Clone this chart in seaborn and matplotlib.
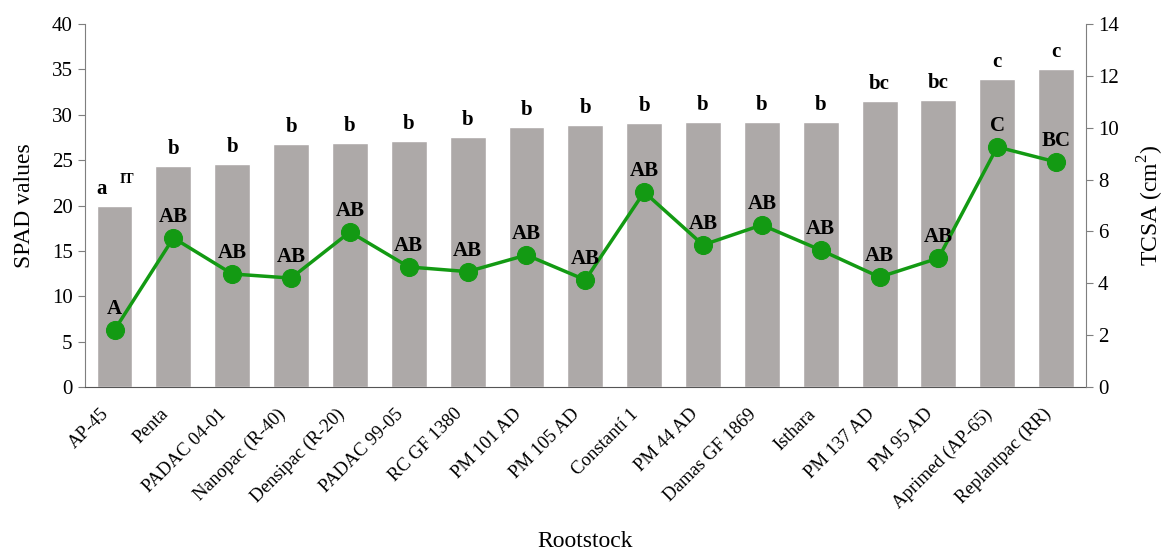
import matplotlib
matplotlib.use("Agg")
import matplotlib.pyplot as plt
import matplotlib.transforms as mtransforms
import seaborn as sns
import numpy as np
import pandas as pd

rootstocks = ["AP-45", "Penta", "PADAC 04-01", "Nanopac (R-40)", "Densipac (R-20)",
              "PADAC 99-05", "RC GF 1380", "PM 101 AD", "PM 105 AD", "Constantí 1",
              "PM 44 AD", "Damas GF 1869", "Isthara", "PM 137 AD", "PM 95 AD",
              "Aprimed (AP-65)", "Replantpac (RR)"]
spad = [19.9, 24.4, 24.6, 26.8, 26.9, 27.1, 27.6, 28.7, 28.9, 29.1, 29.2, 29.2, 29.2,
        31.5, 31.6, 33.9, 35.1]
tcsa = [2.2, 5.75, 4.36, 4.2, 5.98, 4.63, 4.45, 5.09, 4.13, 7.52, 5.48, 6.25, 5.28,
        4.24, 4.97, 9.26, 8.68]
spad_letters = ["a", "b", "b", "b", "b", "b", "b", "b", "b", "b", "b", "b", "b",
                "bc", "bc", "c", "c"]
tcsa_letters = ["A", "AB", "AB", "AB", "AB", "AB", "AB", "AB", "AB", "AB", "AB", "AB",
                "AB", "AB", "AB", "C", "BC"]

sns.set_style("white")
plt.rcParams['font.family'] = ['Liberation Serif', 'DejaVu Serif']
plt.rcParams['mathtext.fontset'] = 'custom'
plt.rcParams['mathtext.rm'] = 'Liberation Serif'
plt.rcParams['text.color'] = 'black'
plt.rcParams['axes.labelcolor'] = 'black'
plt.rcParams['xtick.color'] = 'black'
plt.rcParams['ytick.color'] = 'black'

df = pd.DataFrame({"Rootstock": rootstocks, "SPAD": spad, "TCSA": tcsa})

fig = plt.figure(figsize=(11.66, 5.6), dpi=100)
ax = fig.add_axes([0.073, 0.309, 0.858, 0.648])

bar_color = "#ADA9A8"
green = "#139A13"

sns.barplot(data=df, x="Rootstock", y="SPAD", color=bar_color, width=0.61,
            saturation=1, ax=ax)
ax.set_xlim(-0.5, len(rootstocks) - 0.5)
ax.set_ylim(0, 40)
ax.set_yticks(np.arange(0, 41, 5))

ax2 = ax.twinx()
x = np.arange(len(rootstocks))
sns.lineplot(x=x, y=df["TCSA"], color=green, linewidth=2.5, marker="o",
             markersize=13, markeredgecolor=green, ax=ax2)
ax2.set_ylim(0, 14)
ax2.set_yticks(np.arange(0, 15, 2))
ax2.set_xlim(-0.5, len(rootstocks) - 0.5)

# letters
for i, (v, lab) in enumerate(zip(spad, spad_letters)):
    if i == 0:
        ax.annotate("a", (i, v), xytext=(-9, 5), textcoords="offset points",
                    ha="center", va="bottom", fontsize=15, fontweight="bold")
        ax.annotate("IT", (i, v), xytext=(9, 15), textcoords="offset points",
                    ha="center", va="bottom", fontsize=10, fontweight="bold")
    else:
        ax.annotate(lab, (i, v), xytext=(0, 5), textcoords="offset points",
                    ha="center", va="bottom", fontsize=15, fontweight="bold")
for i, (v, lab) in enumerate(zip(tcsa, tcsa_letters)):
    ax2.annotate(lab, (i, v), xytext=(0, 8), textcoords="offset points",
                 ha="center", va="bottom", fontsize=15, fontweight="bold")

axis_col = "#7F7F7F"
for a in (ax, ax2):
    a.spines["top"].set_visible(False)
    a.spines["left"].set_color(axis_col)
    a.spines["right"].set_color(axis_col)
    a.spines["bottom"].set_color("#555555")
    a.grid(False)
ax.spines["right"].set_visible(False)
ax2.spines["left"].set_visible(False)
ax2.spines["bottom"].set_visible(False)

ax.tick_params(axis="y", direction="out", length=5, color=axis_col, labelsize=15,
               left=True, pad=4)
ax2.tick_params(axis="y", direction="out", length=5, color=axis_col, labelsize=15,
                right=True, pad=4)
ax.tick_params(axis="x", length=0, labelsize=13.5, pad=9)
offset = mtransforms.ScaledTranslation(-14 / 100, -6 / 100, fig.dpi_scale_trans)
for lbl in ax.get_xticklabels():
    lbl.set_rotation(45)
    lbl.set_ha("right")
    lbl.set_rotation_mode("anchor")
    lbl.set_transform(lbl.get_transform() + offset)

ax.set_ylabel("SPAD values", fontsize=17, labelpad=12)
ax2.set_ylabel("TCSA (cm$^2$)", fontsize=17, labelpad=12)
ax.set_xlabel("Rootstock", fontsize=17, labelpad=14)

fig.savefig("out.png", dpi=100)
